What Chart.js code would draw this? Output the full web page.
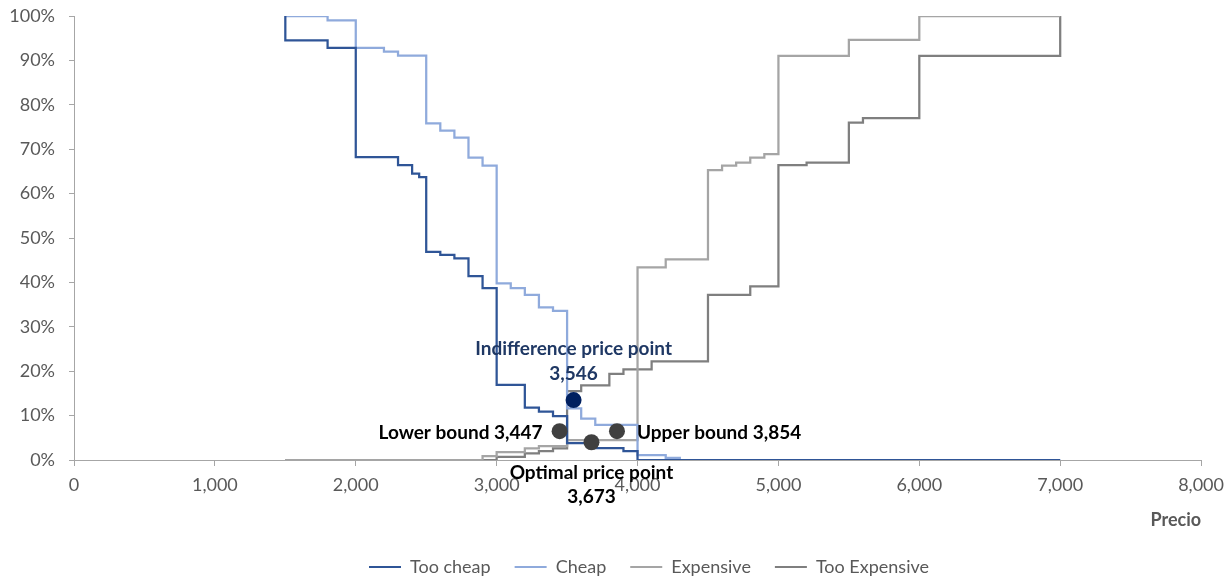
<!DOCTYPE html>
<html>
<head>
<meta charset="utf-8">
<title>Van Westendorp</title>
<script src="https://cdn.jsdelivr.net/npm/chart.js@4.4.1/dist/chart.umd.min.js"></script>
<style>
  html, body { margin: 0; padding: 0; background: #ffffff; }
  #wrap { width: 1232px; height: 581px; }
</style>
</head>
<body>
<div id="wrap"><canvas id="chart" width="1232" height="581"></canvas></div>
<script>
// data (price, share in %)
const tooCheapPrice = [1500, 1500, 1800, 2000, 2300, 2400, 2450, 2500, 2600, 2700, 2800, 2900, 3000, 3200, 3300, 3400, 3500, 3700, 3900, 4000, 7000];
const tooCheapShare = [100, 94.5, 92.8, 68.2, 66.4, 64.5, 63.7, 46.9, 46.2, 45.4, 41.4, 38.7, 16.9, 11.8, 10.9, 9.9, 3.8, 2.7, 2.0, 0, 0];

const cheapPrice = [1500, 1800, 2000, 2200, 2300, 2500, 2600, 2700, 2800, 2900, 3000, 3100, 3200, 3300, 3400, 3500, 3600, 3700, 4000, 4200, 4300, 7000];
const cheapShare = [100, 99, 92.8, 92.0, 91.1, 75.8, 74.2, 72.6, 68.1, 66.3, 39.8, 38.7, 37.2, 34.4, 33.6, 11.6, 9.3, 7.9, 1.1, 0.5, 0, 0];

const expensivePrice = [1500, 2900, 3000, 3200, 3300, 3500, 4000, 4200, 4500, 4600, 4700, 4800, 4900, 5000, 5500, 6000, 7000];
const expensiveShare = [0, 0.9, 1.8, 2.6, 3.1, 4.5, 43.4, 45.2, 65.3, 66.3, 67.0, 68.1, 68.9, 91.0, 94.6, 100, 100];

const tooExpPrice = [1500, 3000, 3200, 3300, 3400, 3500, 3600, 3800, 3900, 4100, 4500, 4800, 5000, 5200, 5500, 5600, 6000, 7000];
const tooExpShare = [0, 0.7, 1.5, 2.0, 2.6, 15.5, 16.8, 19.4, 20.4, 22.2, 37.2, 39.1, 66.4, 67.0, 76.0, 77.0, 91.0, 100];

const markerNames = ['Indifference price point', 'Lower bound', 'Upper bound', 'Optimal price point'];
const markerPrice = [3546, 3447, 3854, 3673];
const markerShare = [13.5, 6.5, 6.5, 4.0];

const xTicks = [0, 1000, 2000, 3000, 4000, 5000, 6000, 7000, 8000];
const yTicks = [0, 10, 20, 30, 40, 50, 60, 70, 80, 90, 100];

const seriesNames = ['Too cheap', 'Cheap', 'Expensive', 'Too Expensive'];

// styling
const textGrey = '#595959';
const axisGrey = '#A6A6A6';
const markerColors = ['#002060', '#404040', '#404040', '#404040'];
const labelColors = ['#1F3864', '#000000', '#000000', '#000000'];
const labelSide = ['above', 'left', 'right', 'below'];

function pts(xs, ys) {
    return xs.map((x, i) => ({ x: x, y: ys[i] }));
}

function fmt(v) {
    return Number(v).toLocaleString('en-US');
}

// each value holds from its price up to the next one
function stepLine(label, xs, ys, color) {
    return {
        label: label,
        data: pts(xs, ys),
        borderColor: color,
        backgroundColor: color,
        borderWidth: 2.25,
        pointRadius: 0,
        pointHoverRadius: 0,
        stepped: 'before',
        fill: false
    };
}

// write the point labels next to the dots
const markerLabels = {
    id: 'markerLabels',
    afterDatasetsDraw(chart) {
        const ctx = chart.ctx;
        const xs = chart.scales.x;
        const ys = chart.scales.y;
        ctx.save();
        ctx.font = 'bold 19px Lato';
        ctx.textBaseline = 'middle';
        markerNames.forEach((name, i) => {
            const px = xs.getPixelForValue(markerPrice[i]);
            const py = ys.getPixelForValue(markerShare[i]);
            const val = fmt(markerPrice[i]);
            ctx.fillStyle = labelColors[i];
            if (labelSide[i] === 'above') {
                ctx.textAlign = 'center';
                ctx.fillText(name, px, py - 51);
                ctx.fillText(val, px, py - 26);
            } else if (labelSide[i] === 'below') {
                ctx.textAlign = 'center';
                ctx.fillText(name, px, py + 31);
                ctx.fillText(val, px, py + 55);
            } else if (labelSide[i] === 'left') {
                ctx.textAlign = 'right';
                ctx.fillText(name + ' ' + val, px - 17, py + 2);
            } else {
                ctx.textAlign = 'left';
                ctx.fillText(name + ' ' + val, px + 20, py + 2);
            }
        });
        ctx.restore();
    }
};

// nudge the legend to where it sits in the original
const legendPlace = {
    id: 'legendPlace',
    afterLayout(chart) {
        const lg = chart.legend;
        if (!lg) return;
        lg.left = 345;
        lg.top += 5;
        lg.bottom += 5;
    }
};

Chart.defaults.font.family = 'Lato';
Chart.defaults.color = textGrey;

new Chart(document.getElementById('chart'), {
    type: 'line',
    data: {
        datasets: [
            {
                label: 'markers',
                data: pts(markerPrice, markerShare),
                showLine: false,
                pointRadius: 8,
                pointHoverRadius: 8,
                pointBorderWidth: 0,
                pointBackgroundColor: markerColors,
                pointBorderColor: markerColors,
                order: -1
            },
            stepLine(seriesNames[0], tooCheapPrice, tooCheapShare, '#2F5597'),
            stepLine(seriesNames[1], cheapPrice, cheapShare, '#8FAADC'),
            stepLine(seriesNames[2], expensivePrice, expensiveShare, '#A5A5A5'),
            stepLine(seriesNames[3], tooExpPrice, tooExpShare, '#7F7F7F')
        ]
    },
    options: {
        responsive: false,
        animation: false,
        devicePixelRatio: 1,
        layout: {
            padding: { left: 0, right: 30, top: 16, bottom: 0 }
        },
        plugins: {
            tooltip: { enabled: false },
            legend: {
                position: 'bottom',
                align: 'start',
                labels: {
                    boxWidth: 32,
                    boxHeight: 2,
                    padding: 24,
                    color: textGrey,
                    font: { size: 18 },
                    filter: (item) => item.text !== 'markers',
                    generateLabels(chart) {
                        const items = Chart.defaults.plugins.legend.labels.generateLabels(chart);
                        items.forEach((it) => {
                            it.fillStyle = it.strokeStyle;
                            it.lineWidth = 0;
                        });
                        return items;
                    }
                }
            }
        },
        scales: {
            x: {
                type: 'linear',
                min: xTicks[0],
                max: xTicks[xTicks.length - 1],
                afterBuildTicks(scale) {
                    scale.ticks = xTicks.map((v) => ({ value: v }));
                },
                afterFit(scale) {
                    scale.height = 69;
                },
                ticks: {
                    padding: 8,
                    color: textGrey,
                    font: { size: 18 },
                    callback: (v) => fmt(v)
                },
                grid: {
                    drawOnChartArea: false,
                    drawTicks: true,
                    tickLength: 6,
                    tickColor: axisGrey
                },
                border: { color: axisGrey, width: 1 },
                title: {
                    display: true,
                    text: 'Precio',
                    align: 'end',
                    color: textGrey,
                    font: { size: 18, weight: 'bold', lineHeight: 1 },
                    padding: { top: 0, bottom: 0 }
                }
            },
            y: {
                min: yTicks[0],
                max: yTicks[yTicks.length - 1],
                afterBuildTicks(scale) {
                    scale.ticks = yTicks.map((v) => ({ value: v }));
                },
                afterFit(scale) {
                    scale.width = 74;
                    scale.paddingTop = 0;
                    scale.paddingBottom = 0;
                },
                ticks: {
                    padding: 14,
                    color: textGrey,
                    font: { size: 18 },
                    callback: (v) => v + '%'
                },
                grid: {
                    drawOnChartArea: false,
                    drawTicks: true,
                    tickLength: 5,
                    tickColor: axisGrey
                },
                border: { color: axisGrey, width: 1 }
            }
        }
    },
    plugins: [markerLabels, legendPlace]
});
</script>
</body>
</html>
